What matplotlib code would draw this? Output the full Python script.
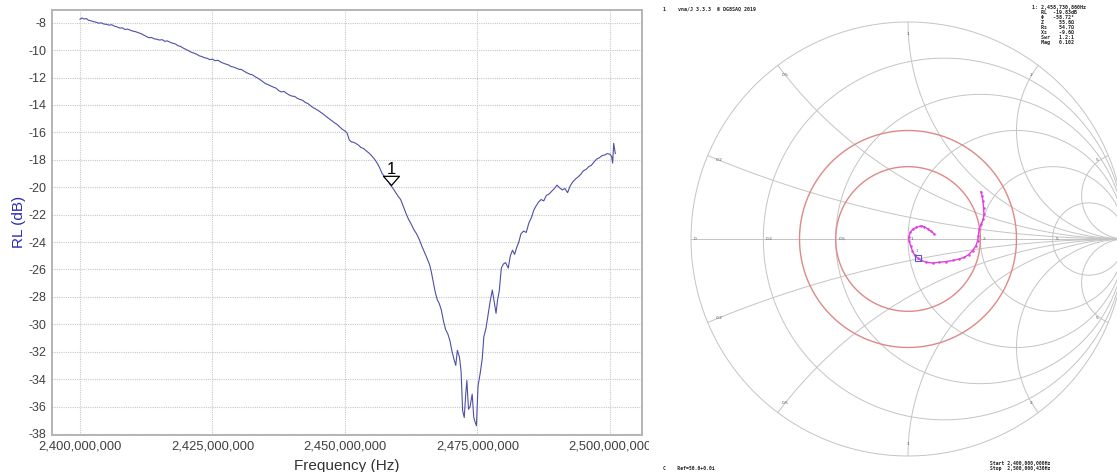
import numpy as np
import matplotlib
matplotlib.use("Agg")
import matplotlib.pyplot as plt
from matplotlib.ticker import FuncFormatter
from matplotlib.path import Path

# ---------------- data: return loss sweep ----------------
freq_mhz = [
    2400.0, 2400.4, 2400.8, 2401.2, 2401.6, 2402.0, 2402.5, 2403.0, 2403.5, 2404.0,
    2404.5, 2405.0, 2405.5, 2406.0, 2406.5, 2407.0, 2407.5, 2408.0, 2408.5, 2409.0,
    2409.5, 2410.0, 2410.5, 2411.0, 2411.5, 2412.0, 2412.5, 2413.0, 2413.5, 2414.0,
    2414.5, 2415.0, 2415.5, 2416.0, 2416.5, 2417.0, 2417.5, 2418.0, 2418.5, 2419.0,
    2419.5, 2420.0, 2420.5, 2421.0, 2421.5, 2422.0, 2422.5, 2423.0, 2423.5, 2424.0,
    2424.5, 2425.0, 2425.5, 2426.0, 2426.5, 2427.0, 2427.5, 2428.0, 2428.5, 2429.0,
    2429.5, 2430.0, 2430.5, 2431.0, 2431.5, 2432.0, 2432.5, 2433.0, 2433.5, 2434.0,
    2434.5, 2435.0, 2435.5, 2436.0, 2436.5, 2437.0, 2437.5, 2438.0, 2438.5, 2439.0,
    2439.5, 2440.0, 2440.5, 2441.0, 2441.5, 2442.0, 2442.5, 2443.0, 2443.5, 2444.0,
    2444.5, 2445.0, 2445.5, 2446.0, 2446.5, 2447.0, 2447.5, 2448.0, 2448.5, 2449.0,
    2449.5, 2450.0, 2450.4, 2450.8, 2451.2, 2451.6, 2452.0, 2452.5, 2453.0, 2453.5,
    2454.0, 2454.5, 2455.0, 2455.5, 2456.0, 2456.5, 2457.0, 2457.5, 2458.0, 2458.5,
    2459.0, 2459.5, 2460.0, 2460.5, 2461.0, 2461.5, 2462.0, 2462.5, 2463.0, 2463.5,
    2464.0, 2464.5, 2465.0, 2465.5, 2466.0, 2466.3, 2466.6, 2467.0, 2467.4, 2467.8,
    2468.2, 2468.6, 2469.0, 2469.4, 2469.8, 2470.2, 2470.6, 2470.9, 2471.2, 2471.6,
    2471.9, 2472.2, 2472.5, 2472.8, 2473.0, 2473.3, 2473.6, 2474.0, 2474.3, 2474.6,
    2474.8, 2475.1, 2475.5, 2475.9, 2476.2, 2476.6, 2477.0, 2477.4, 2477.8, 2478.2,
    2478.5, 2478.8, 2479.1, 2479.5, 2479.9, 2480.3, 2480.8, 2481.2, 2481.6, 2482.0,
    2482.4, 2482.8, 2483.2, 2483.7, 2484.2, 2484.7, 2485.2, 2485.6, 2486.0, 2486.5,
    2487.0, 2487.5, 2488.0, 2488.5, 2489.0, 2489.5, 2490.0, 2490.5, 2491.0, 2491.5,
    2492.0, 2492.5, 2493.0, 2493.5, 2494.0, 2494.5, 2495.0, 2495.5, 2496.0, 2496.5,
    2497.0, 2497.5, 2498.0, 2498.5, 2499.0, 2499.5, 2500.0, 2500.3, 2500.5, 2500.7,
    2500.9, 2501.0,
]
rl_db = [
    -7.75, -7.66, -7.74, -7.70, -7.82, -7.86, -7.92, -7.96, -8.04, -8.01,
    -8.10, -8.12, -8.18, -8.15, -8.26, -8.31, -8.40, -8.38, -8.50, -8.47,
    -8.55, -8.62, -8.66, -8.73, -8.80, -8.90, -9.00, -9.10, -9.08, -9.18,
    -9.21, -9.27, -9.24, -9.36, -9.33, -9.43, -9.50, -9.55, -9.68, -9.74,
    -9.86, -9.95, -10.05, -10.16, -10.22, -10.30, -10.42, -10.47, -10.56, -10.60,
    -10.70, -10.66, -10.78, -10.74, -10.86, -10.95, -11.02, -11.08, -11.20, -11.24,
    -11.32, -11.40, -11.42, -11.55, -11.66, -11.75, -11.80, -11.93, -12.04, -12.16,
    -12.30, -12.45, -12.52, -12.62, -12.70, -12.78, -12.96, -13.05, -13.02, -13.16,
    -13.28, -13.36, -13.38, -13.52, -13.60, -13.66, -13.82, -13.90, -14.06, -14.20,
    -14.30, -14.42, -14.56, -14.70, -14.86, -15.00, -15.15, -15.30, -15.42, -15.60,
    -15.78, -15.90, -16.05, -16.55, -16.70, -16.72, -16.80, -16.92, -17.10, -17.18,
    -17.35, -17.50, -17.70, -17.92, -18.20, -18.55, -19.00, -19.25, -19.45, -19.80,
    -20.05, -20.35, -20.65, -20.90, -21.40, -21.90, -22.35, -22.70, -23.10, -23.40,
    -23.80, -24.30, -24.75, -25.20, -25.70, -26.20, -26.80, -27.60, -28.20, -28.50,
    -29.00, -29.80, -30.40, -30.70, -31.20, -32.00, -32.60, -33.00, -31.90, -32.40,
    -33.40, -36.30, -36.80, -35.00, -34.10, -36.20, -36.00, -35.10, -36.80, -37.20,
    -37.40, -34.50, -33.60, -32.50, -30.90, -30.30, -29.30, -28.30, -27.50, -28.50,
    -29.20, -28.20, -27.60, -25.90, -25.60, -25.50, -25.90, -25.00, -24.60, -24.90,
    -24.40, -24.00, -23.40, -23.20, -23.30, -22.60, -22.20, -21.70, -21.40, -21.10,
    -20.90, -21.00, -20.60, -20.50, -20.30, -20.10, -19.85, -20.05, -20.20, -20.10,
    -20.40, -19.90, -19.60, -19.40, -19.25, -19.05, -18.80, -18.70, -18.50, -18.40,
    -18.15, -17.95, -17.85, -17.70, -17.65, -17.55, -17.60, -17.75, -18.25, -16.80,
    -17.30, -17.55,
]
marker_freq_mhz = 2458.73
marker_rl = -19.83
marker_label = "1"

x_ticks_mhz = [2400, 2425, 2450, 2475, 2500]
y_ticks = [-38, -36, -34, -32, -30, -28, -26, -24, -22, -20, -18, -16, -14, -12, -10, -8]

# ---------------- data: Smith chart trace (reflection coefficient) ----------------
gamma_re = [0.336, 0.342, 0.345, 0.348, 0.350, 0.347, 0.337, 0.328, 0.324, 0.321,
            0.313, 0.298, 0.279, 0.260, 0.237, 0.206, 0.176, 0.145, 0.115, 0.084,
            0.061, 0.046, 0.031, 0.020, 0.012, 0.005, 0.003, 0.011, 0.023, 0.038,
            0.061, 0.076, 0.092, 0.107, 0.122]
gamma_im = [0.218, 0.198, 0.176, 0.145, 0.115, 0.092, 0.069, 0.046, 0.015, -0.008,
            -0.031, -0.053, -0.072, -0.084, -0.092, -0.099, -0.104, -0.107, -0.111, -0.107,
            -0.099, -0.089, -0.076, -0.053, -0.031, -0.008, 0.008, 0.031, 0.046, 0.053,
            0.061, 0.056, 0.046, 0.035, 0.023]
smith_marker_re = 0.046
smith_marker_im = -0.089

r_values = [0.2, 0.5, 1, 2, 5]
x_values = [0.2, 0.5, 1, 2, 5]
vswr_circles = [1 / 3, 0.5]
axis_labels = ["0", "0.2", "0.5", "1", "2", "5"]

header_text = "1    vna/J 3.3.3  \u00a9 DG8SAQ 2019"
marker_info = ["1: 2,458,730,860Hz",
               "   RL  -19.83dB",
               "   \u03a6   -58.72\u00b0",
               "   Z     55.6\u03a9",
               "   Rs    54.7\u03a9",
               "   Xs    -9.6\u03a9",
               "   Swr   1.2:1",
               "   Mag   0.102"]
ref_text = "C    Ref=50.0+0.0i"
sweep_text = ["Start 2,400,000,000Hz", "Stop  2,500,000,430Hz"]

# ---------------- figure ----------------
W, H = 1117, 472
fig = plt.figure(figsize=(W / 100, H / 100), dpi=100)
fig.patch.set_facecolor("white")
plt.rcParams["font.family"] = ["Liberation Sans", "DejaVu Sans"]

ax = fig.add_axes([52 / W, 1 - 434.5 / H, 590 / W, 425 / H])
freq_hz = np.array(freq_mhz) * 1e6
ax.plot(freq_hz, rl_db, color="#4f4fa8", lw=0.8, zorder=3)

ax.set_xlim(2394.72e6, 2506.04e6)
ax.set_ylim(-38.04, -7.04)
ax.set_xticks(np.array(x_ticks_mhz) * 1e6)
ax.set_yticks(y_ticks)
ax.xaxis.set_major_formatter(FuncFormatter(lambda v, p: f"{int(round(v)):,}"))
ax.yaxis.set_major_formatter(FuncFormatter(lambda v, p: f"{int(round(v))}"))
ax.tick_params(length=0, labelsize=9, colors="#404040", pad=4)
ax.tick_params(axis="x", labelsize=9.3)
ax.grid(True, color="#c8c8c8", lw=0.8, ls=(0, (1, 1)))
for s in ax.spines.values():
    s.set_color("#b4b4b4")
    s.set_linewidth(1.4)

ax.set_ylabel("RL (dB)", color="#2a2ab0", fontsize=11)
ax.yaxis.set_label_coords(-0.044, 0.5)
ax.set_xlabel("Frequency (Hz)", color="#333333", fontsize=11)
ax.xaxis.set_label_coords(0.5, -0.058)

# marker triangle with tip at data point
tri = Path([(-1.0, 1.15), (1.0, 1.15), (0.0, 0.0), (-1.0, 1.15)],
           [Path.MOVETO, Path.LINETO, Path.LINETO, Path.CLOSEPOLY])
ax.plot([marker_freq_mhz * 1e6], [marker_rl], marker=tri, ms=13.2, mfc="white",
        mec="black", mew=0.9, ls="none", zorder=4)
ax.annotate(marker_label, (marker_freq_mhz * 1e6, marker_rl), xytext=(0, 5.5),
            textcoords="offset points", ha="center", va="bottom", fontsize=12,
            color="black", zorder=5)

# ---------------- Smith chart ----------------
x0 = 649
sc = 217.0
cx, cy = 908.0, 239.0
sax = fig.add_axes([x0 / W, 0, (W - x0) / W, 1])
sax.set_zorder(2)
sax.set_facecolor("white")
sax.set_xlim((x0 - cx) / sc, (W - cx) / sc)
sax.set_ylim((cy - H) / sc, cy / sc)
sax.set_xticks([])
sax.set_yticks([])
for s in sax.spines.values():
    s.set_visible(False)

grid_c = "#c4c4c4"
glw = 0.7
t = np.linspace(0, 2 * np.pi, 721)
sax.plot(np.cos(t), np.sin(t), color=grid_c, lw=glw)
sax.plot([-1, 1], [0, 0], color=grid_c, lw=glw)
for r in r_values:
    c = r / (1 + r)
    rad = 1 / (1 + r)
    sax.plot(c + rad * np.cos(t), rad * np.sin(t), color=grid_c, lw=glw)
for xv in x_values:
    for sgn in (1, -1):
        rad = 1 / xv
        th = np.linspace(-np.pi / 2, 3 * np.pi / 2, 4000) if sgn > 0 else np.linspace(np.pi / 2, 5 * np.pi / 2, 4000)
        px = 1 + rad * np.cos(th)
        py = sgn * rad + rad * np.sin(th)
        inside = px ** 2 + py ** 2 <= 1.0000001
        px = np.where(inside, px, np.nan)
        py = np.where(inside, py, np.nan)
        sax.plot(px, py, color=grid_c, lw=glw)

for g in vswr_circles:
    sax.plot(g * np.cos(t), g * np.sin(t), color="#e08888", lw=1.0)

# labels on the real axis
real_vals = [0, 0.2, 0.5, 1, 2, 5]
for rv, lab in zip(real_vals, axis_labels):
    g = (rv - 1) / (rv + 1)
    sax.text(g + 0.012, 0.0, lab, fontsize=3.2, color="#555555", ha="left", va="center",
             family="DejaVu Sans")
for xv, lab in zip(x_values, axis_labels[1:]):
    z = complex(0, xv)
    g = (z - 1) / (z + 1)
    for sgn in (1, -1):
        sax.text(0.945 * g.real, 0.945 * sgn * g.imag, lab, fontsize=3.2, color="#555555",
                 ha="center", va="center", family="DejaVu Sans")

# trace
sax.plot(gamma_re, gamma_im, color="#e040e0", lw=1.0, marker=".", ms=1.6, zorder=5)
sax.plot([smith_marker_re], [smith_marker_im], marker="s", ms=4.5, mfc="none",
         mec="#4a60d0", mew=0.8, zorder=6)
sax.text(smith_marker_re - 0.006, smith_marker_im + 0.025, "1", fontsize=2.8, color="#4a60d0",
         ha="center", va="bottom", family="DejaVu Sans")

mono = "DejaVu Sans Mono"
fig.text(663 / W, 1 - 9 / H, header_text, fontsize=3.6, family=mono, color="#222222",
         ha="left", va="center", weight="bold")
for i, line in enumerate(marker_info):
    fig.text(1032 / W, 1 - (7.0 + 5.1 * i) / H, line, fontsize=3.6, family=mono,
             color="#222222", ha="left", va="center", weight="bold")
fig.text(663 / W, 1 - 468.3 / H, ref_text, fontsize=3.4, family=mono, color="#222222",
         ha="left", va="center", weight="bold")
for i, line in enumerate(sweep_text):
    fig.text(990 / W, 1 - (463.3 + 5.0 * i) / H, line, fontsize=3.4, family=mono,
             color="#222222", ha="left", va="center", weight="bold")

fig.savefig("out.png", dpi=100)
